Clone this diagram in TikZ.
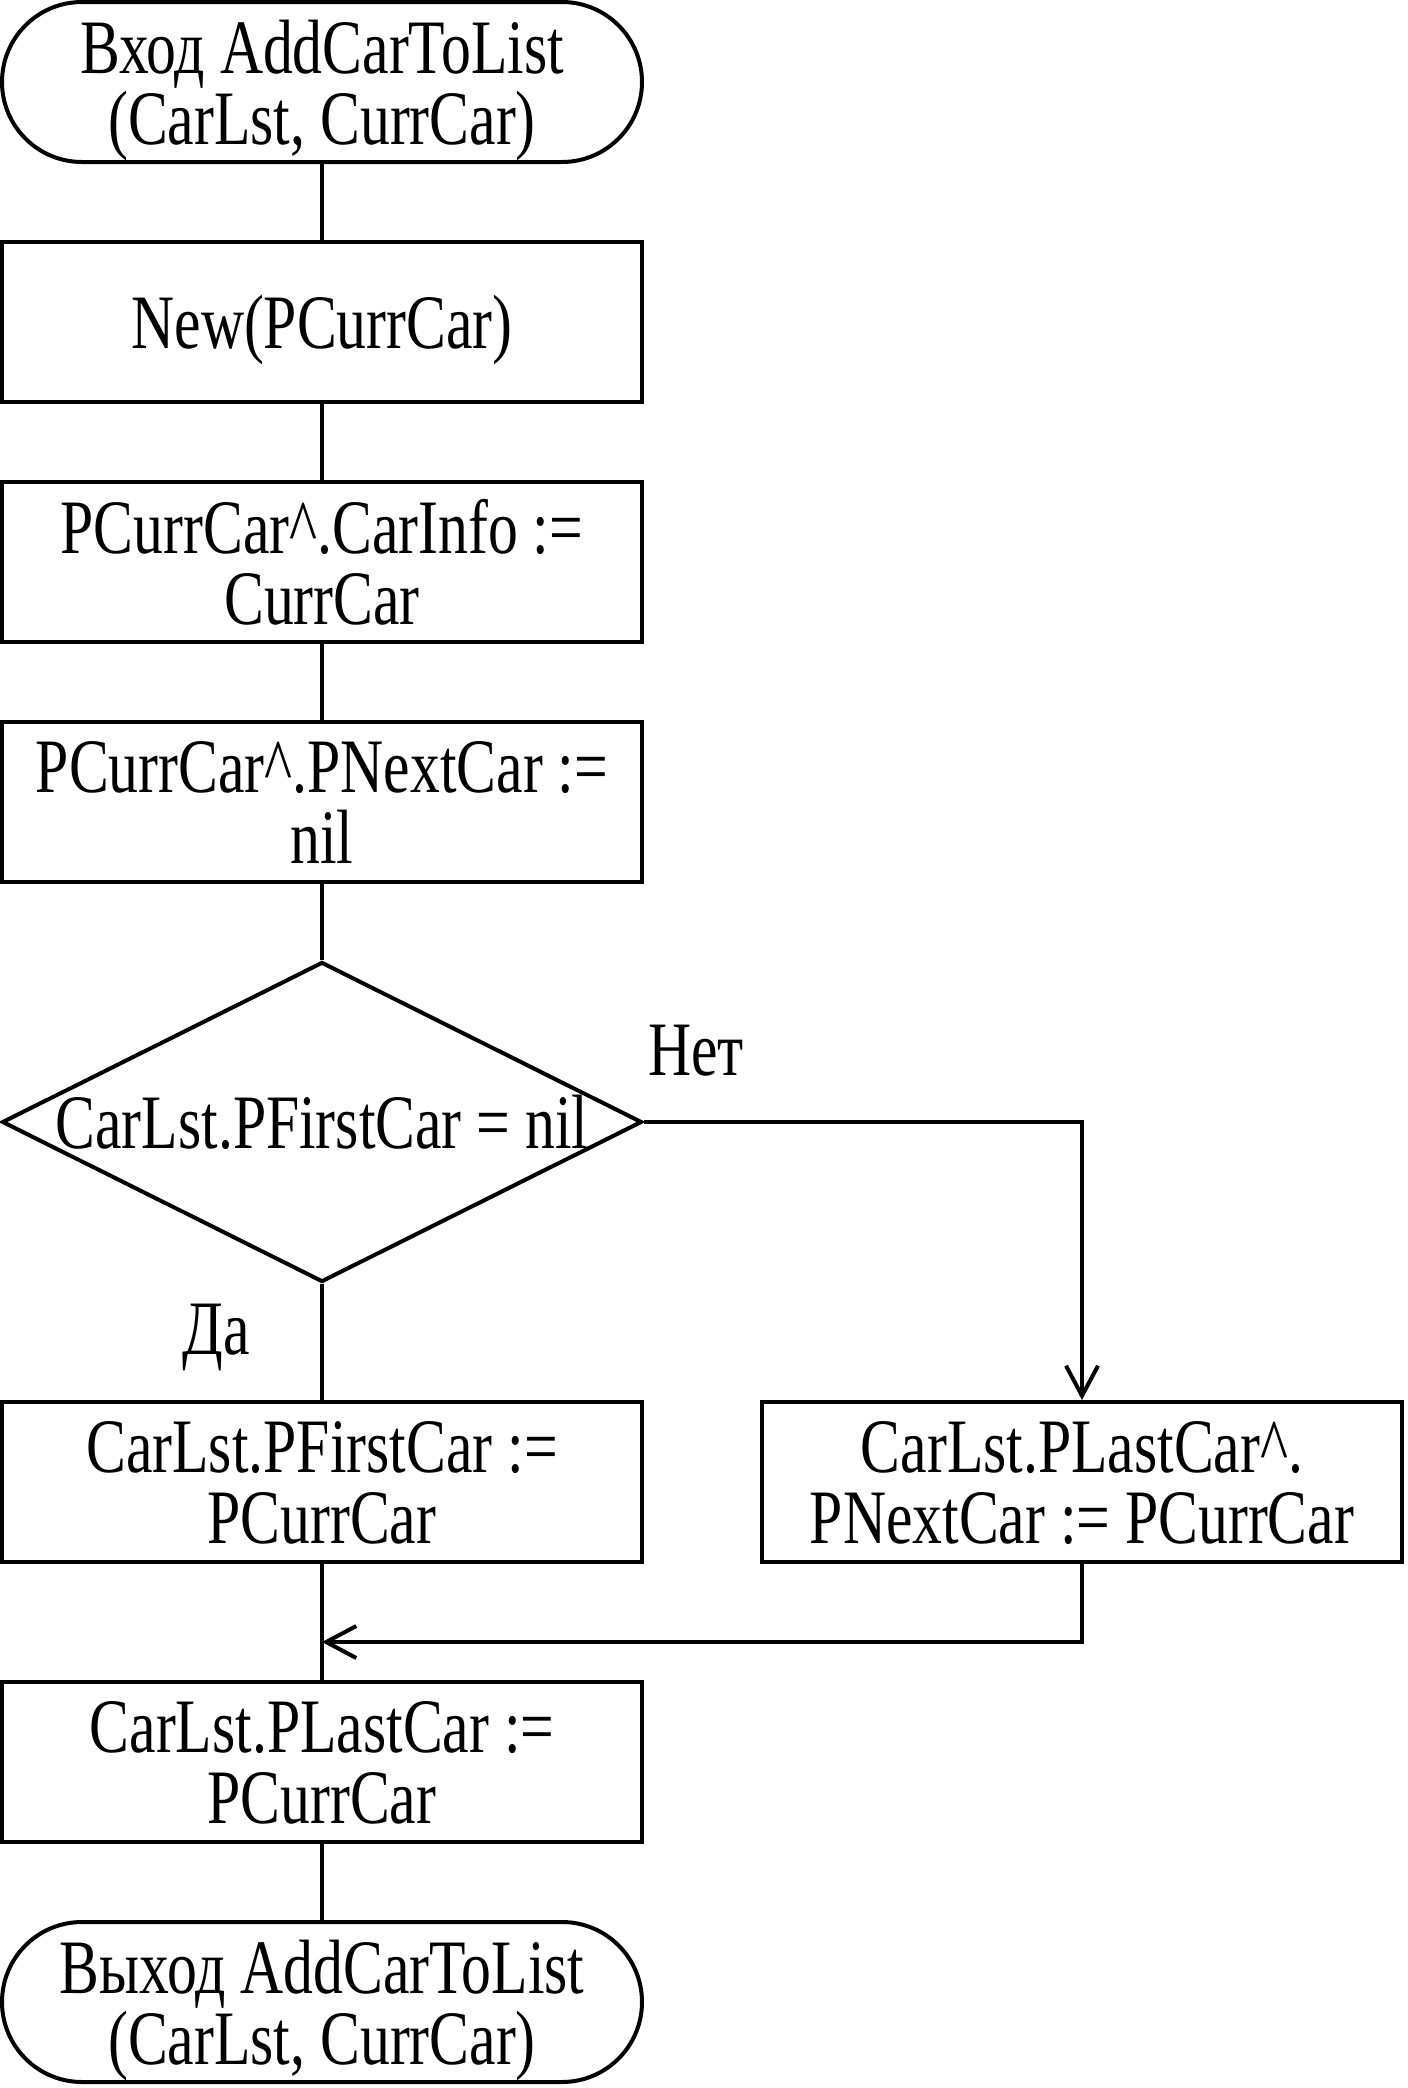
\documentclass[tikz,border=0pt]{standalone}
\usepackage{fontspec}
\setmainfont{Liberation Serif}[FakeStretch=0.775]
\usetikzlibrary{shapes.geometric,arrows.meta}

\begin{document}
\begin{tikzpicture}[x=1pt,y=1pt]
	\tikzset{
		every node/.style={font=\fontsize{38.5}{35.5}\selectfont, align=center, text depth=0pt},
		block/.style={draw, line width=2pt, minimum width=320pt, minimum height=80pt, inner sep=0pt},
		terminal/.style={block, rounded corners=40pt},
		decision/.style={draw, diamond, line width=2pt, minimum width=320pt, minimum height=160pt, inner sep=0pt},
		line/.style={line width=2pt},
		arr/.style={line, -{Straight Barb[length=15pt,width=16pt]}},
		% logic/.style={fill=white}
	}
	\useasboundingbox (0,0) rectangle (704,-1044);

	\node[terminal] (start) at (161,-41){Вход AddCarToList\\(CarLst, CurrCar)};
	\node[block] (new) at (161,-161){New(PCurrCar)};
	\node[block] (info) at (161,-281){PCurrCar\textasciicircum.CarInfo :=\\CurrCar};
	\node[block] (next) at (161,-401){PCurrCar\textasciicircum.PNextCar :=\\nil};
	\node[decision, label={center:CarLst.PFirstCar = nil}] (cond) at (161,-561){};
	\node[block] (isfirst) at (161,-741){CarLst.PFirstCar :=\\PCurrCar};
	\node[block] (notfirst) at (541,-741){CarLst.PLastCar\textasciicircum.\\PNextCar := PCurrCar};
	\node[block] (last) at (161,-881){CarLst.PLastCar :=\\PCurrCar};
	\node[terminal] (stop) at (161,-1001){Выход AddCarToList\\(CarLst, CurrCar)};
	\coordinate (merge) at (161,-821);

	\node (no) at (348,-525){Нет};
	\node (yes) at (108,-664.5){Да};

	\draw[line] (start) -- (new);
	\draw[line] (new) -- (info);
	\draw[line] (info) -- (next);
	\draw[line] (next) -- (cond);
	\draw[line] (cond.south) -- (isfirst.north);
	\draw[arr] (cond.east) -| (notfirst.north);
	\draw[line] (isfirst) -- (last);
	\draw[arr] (notfirst.south) |- (merge);
	\draw[line] (last) -- (stop);
\end{tikzpicture}
\end{document}
